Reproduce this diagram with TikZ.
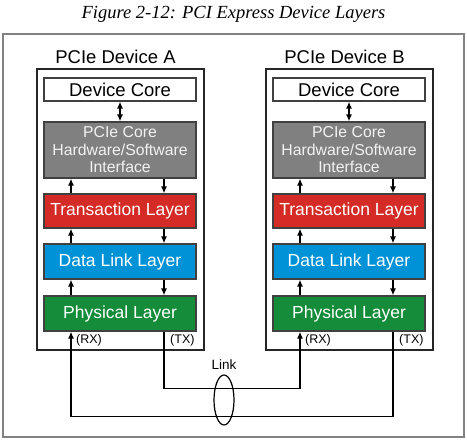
\documentclass[tikz,border=0pt]{standalone}
\usepackage{fontspec}
\setmainfont{Liberation Sans}
\newfontfamily\captionfont{Liberation Serif}
\usetikzlibrary{positioning,shapes.geometric,arrows.meta}
\definecolor{swgray}{RGB}{128,128,128}
\definecolor{tlred}{RGB}{213,43,38}
\definecolor{dlblue}{RGB}{0,146,214}
\definecolor{phgreen}{RGB}{21,140,58}
\definecolor{framegray}{RGB}{130,130,130}
\begin{document}
\begin{tikzpicture}[>={Latex[length=7pt,width=6pt]}, x=1pt, y=-1pt,
  layer/.style={draw=black!75, line width=1.1pt, minimum width=152pt, inner sep=0pt, text=white,
    font=\fontsize{17.5}{19}\selectfont},
  corebox/.style={layer, fill=white, text=black, minimum height=23pt, font=\fontsize{18.5}{20}\selectfont},
  devbox/.style={draw=black!85, line width=1.3pt, minimum width=167pt, minimum height=281pt, inner sep=0pt},
  devlbl/.style={font=\fontsize{18.5}{20}\selectfont},
  port/.style={inner sep=1pt, font=\fontsize{12.5}{13}\selectfont},
  wire/.style={line width=1.4pt}]
\useasboundingbox (0,0) rectangle (467,440);
\node[font=\captionfont\itshape\fontsize{18.5}{20}\selectfont] (title) at (233.5,14) {Figure 2-12: PCI Express Device Layers};
\draw[framegray, line width=1.5pt] (3,34) rectangle (464,437);
% the two devices
\foreach \d/\x in {A/120,B/349}{
  \node[devbox] (dev\d) at (\x+0.5,209.5) {};
  \node[devlbl] at ([xshift=-5pt,yshift=11pt]dev\d.north) {PCIe Device \d};
  \node[corebox] (core\d) at (\x,89.5) {Device Core};
  \node[layer, fill=swgray, minimum height=56pt, align=center, text=black!5,
    font=\fontsize{15.8}{17.5}\selectfont] (sw\d) at (\x,150) {PCIe Core\\Hardware/Software\\Interface};
  \node[layer, fill=tlred, minimum height=34pt] (tl\d) at (\x,211) {Transaction Layer};
  \node[layer, fill=dlblue, minimum height=35pt] (dl\d) at (\x,261.5) {Data Link Layer};
  \node[layer, fill=phgreen, minimum height=35pt] (ph\d) at (\x,313.5) {Physical Layer};
  \draw[wire,<->] (core\d) -- (sw\d);
  \foreach \up/\lo in {sw/tl,tl/dl,dl/ph}{
    \draw[wire,<-] ([xshift=-49pt]\up\d.south) -- ([xshift=-49pt]\lo\d.north);
    \draw[wire,->] ([xshift=44pt]\up\d.south) -- ([xshift=44pt]\lo\d.north);
  }
  \node[port, anchor=north west] at ([xshift=-45pt,yshift=-2pt]ph\d.south) {(RX)};
  \node[port, anchor=north west] at ([xshift=49pt,yshift=-2pt]ph\d.south) {(TX)};
}
% the link
\node[ellipse, draw, line width=1.2pt, minimum width=20pt, minimum height=50pt, inner sep=0pt] (link) at (224,400) {};
\node[above=1pt of link, font=\fontsize{13.5}{14}\selectfont] {Link};
\draw[wire,->] ([xshift=44pt]phA.south) -- ++(0,57) -| ([xshift=-49pt]phB.south);
\draw[wire,->] ([xshift=44pt]phB.south) -- ++(0,85) -| ([xshift=-49pt]phA.south);
\end{tikzpicture}
\end{document}
